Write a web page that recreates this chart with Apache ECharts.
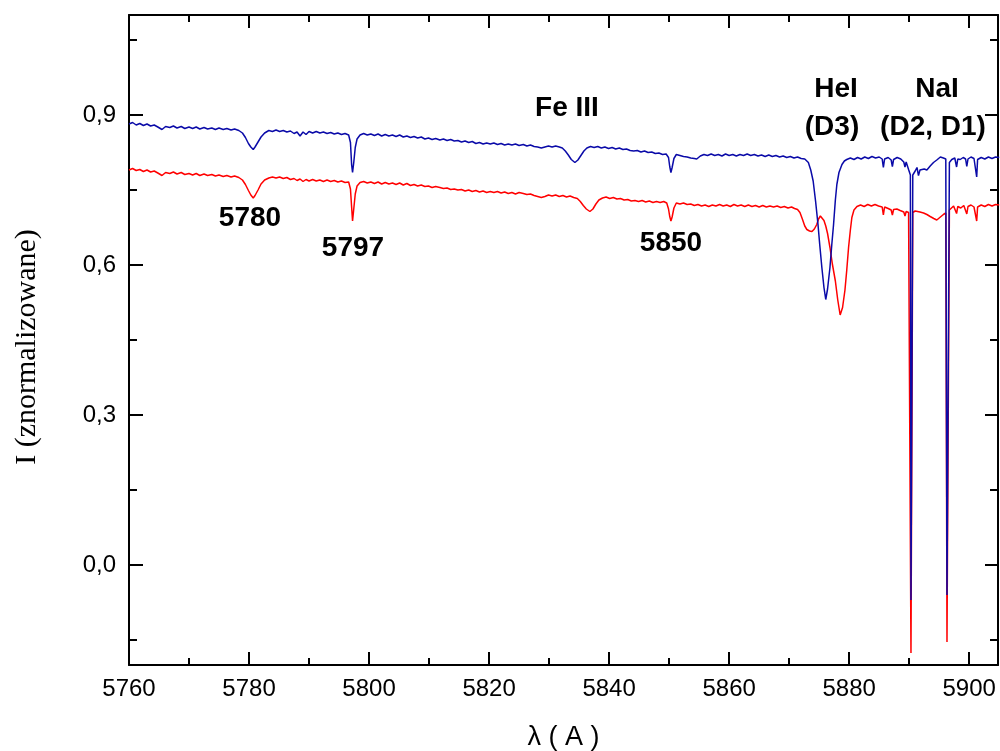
<!DOCTYPE html>
<html>
<head>
<meta charset="utf-8">
<script src="https://cdn.jsdelivr.net/npm/echarts@6/dist/echarts.min.js"></script>
<style>
  html, body { margin: 0; padding: 0; background: #fff; }
  #chart { width: 1000px; height: 751px; }
</style>
</head>
<body>
<div id="chart"></div>
<script>
// widma (blue - gorne, red - dolne)
var blueWl = [
  5760.0,5760.6,5761.2,5761.8,5762.4,5763.0,5763.6,5764.2,5764.8,5765.5,5766.1,5766.8,5767.4,5768.0,5768.7,5769.3,
  5770.0,5770.6,5771.2,5771.8,5772.5,5773.1,5773.8,5774.4,5775.0,5775.7,5776.3,5777.0,5777.6,5778.3,5778.9,5779.4,
  5779.9,5780.3,5780.7,5781.0,5781.5,5782.0,5782.6,5783.3,5783.9,5784.5,5785.1,5785.7,5786.3,5786.9,5787.5,5788.0,
  5788.5,5789.0,5789.5,5790.0,5790.6,5791.2,5791.8,5792.4,5793.0,5793.6,5794.2,5794.8,5795.4,5796.0,5796.6,5796.9,
  5797.1,5797.25,5797.45,5797.7,5798.0,5798.5,5799.1,5799.7,5800.3,5800.9,5801.5,5802.1,5802.7,5803.3,5803.9,5804.5,
  5805.1,5805.7,5806.3,5806.9,5807.5,5808.1,5808.7,5809.3,5809.9,5810.5,5811.1,5811.8,5812.4,5813.0,5813.6,5814.2,
  5814.8,5815.4,5816.0,5816.6,5817.2,5817.8,5818.4,5819.0,5819.6,5820.2,5820.8,5821.4,5822.0,5822.6,5823.2,5823.8,
  5824.4,5825.0,5825.7,5826.3,5826.9,5827.5,5828.1,5828.7,5829.3,5829.9,5830.5,5831.1,5831.7,5832.2,5832.7,5833.2,
  5833.7,5834.3,5834.8,5835.3,5835.8,5836.3,5836.9,5837.5,5838.1,5838.7,5839.3,5839.9,5840.5,5841.1,5841.7,5842.3,
  5842.9,5843.5,5844.1,5844.7,5845.3,5845.9,5846.5,5847.1,5847.7,5848.3,5848.9,5849.5,5849.9,5850.1,5850.3,5850.5,
  5850.8,5851.2,5851.8,5852.4,5853.0,5853.6,5854.2,5854.6,5855.2,5855.8,5856.4,5857.0,5857.6,5858.2,5858.8,5859.4,
  5860.0,5860.6,5861.2,5861.8,5862.4,5863.0,5863.6,5864.2,5864.8,5865.4,5866.0,5866.6,5867.2,5867.8,5868.4,5869.0,
  5869.6,5870.2,5870.8,5871.4,5872.0,5872.6,5873.2,5873.6,5874.0,5874.4,5874.8,5875.1,5875.45,5875.8,5876.1,5876.4,
  5876.8,5877.1,5877.4,5877.7,5877.95,5878.3,5878.8,5879.2,5879.6,5880.2,5880.8,5881.4,5882.0,5882.6,5883.2,5883.8,
  5884.4,5885.0,5885.5,5885.7,5885.9,5886.5,5887.0,5887.2,5887.4,5888.0,5888.6,5889.1,5889.3,5889.5,5889.9,5890.2,
  5890.3,5890.5,5890.6,5891.0,5891.3,5891.55,5891.8,5892.1,5892.5,5892.95,5893.5,5894.05,5894.6,5895.2,5895.7,5896.1,
  5896.3,5896.5,5896.7,5897.1,5897.6,5897.9,5898.1,5898.5,5899.0,5899.4,5899.6,5899.8,5900.3,5900.8,5901.1,5901.25,
  5901.4,5902.0,5902.6,5903.2,5903.8,5904.4,5905.0
];
var blueI = [
  0.882,0.885,0.880,0.883,0.879,0.882,0.878,0.880,0.876,0.871,0.877,0.875,0.878,0.874,0.877,0.873,
  0.876,0.873,0.876,0.872,0.875,0.872,0.874,0.871,0.874,0.871,0.873,0.870,0.872,0.869,0.864,0.855,
  0.843,0.836,0.831,0.836,0.846,0.856,0.864,0.869,0.867,0.870,0.867,0.869,0.866,0.868,0.863,0.866,
  0.858,0.866,0.861,0.867,0.864,0.867,0.864,0.866,0.863,0.865,0.862,0.864,0.861,0.863,0.860,0.845,
  0.800,0.785,0.805,0.835,0.852,0.860,0.863,0.860,0.862,0.859,0.862,0.858,0.861,0.858,0.860,0.857,
  0.860,0.856,0.858,0.855,0.857,0.854,0.856,0.852,0.854,0.851,0.853,0.850,0.852,0.849,0.851,0.848,
  0.849,0.846,0.848,0.845,0.847,0.843,0.845,0.842,0.844,0.842,0.844,0.841,0.843,0.840,0.842,0.840,
  0.842,0.839,0.841,0.838,0.840,0.837,0.836,0.834,0.836,0.838,0.836,0.838,0.836,0.834,0.828,0.820,
  0.811,0.805,0.810,0.819,0.828,0.834,0.837,0.835,0.837,0.834,0.836,0.833,0.835,0.832,0.834,0.831,
  0.832,0.829,0.828,0.829,0.826,0.828,0.825,0.826,0.823,0.824,0.821,0.822,0.815,0.797,0.785,0.795,
  0.813,0.821,0.819,0.817,0.816,0.814,0.813,0.812,0.818,0.821,0.819,0.822,0.819,0.821,0.818,0.822,
  0.819,0.821,0.818,0.821,0.819,0.822,0.819,0.821,0.818,0.820,0.817,0.820,0.817,0.819,0.816,0.818,
  0.815,0.817,0.814,0.816,0.813,0.812,0.805,0.790,0.768,0.728,0.682,0.640,0.595,0.555,0.531,0.552,
  0.595,0.640,0.681,0.730,0.761,0.785,0.801,0.808,0.811,0.814,0.811,0.815,0.812,0.816,0.813,0.817,
  0.814,0.816,0.812,0.795,0.812,0.815,0.810,0.797,0.811,0.815,0.812,0.806,0.796,0.806,0.791,0.780,
  -0.070,-0.070,0.780,0.788,0.795,0.779,0.790,0.787,0.792,0.790,0.798,0.805,0.810,0.816,0.814,0.812,
  -0.060,-0.060,0.805,0.811,0.814,0.796,0.812,0.811,0.815,0.812,0.797,0.812,0.816,0.813,0.812,0.776,
  0.811,0.815,0.812,0.816,0.813,0.816,0.815
];

var redWl = [
  5760.0,5760.6,5761.2,5761.8,5762.4,5763.0,5763.6,5764.2,5764.8,5765.5,5766.1,5766.8,5767.4,5768.0,5768.7,5769.3,
  5770.0,5770.6,5771.2,5771.8,5772.5,5773.1,5773.8,5774.4,5775.0,5775.7,5776.3,5777.0,5777.6,5778.3,5778.9,5779.4,
  5779.9,5780.3,5780.7,5781.0,5781.5,5782.0,5782.6,5783.3,5783.9,5784.5,5785.1,5785.7,5786.3,5786.9,5787.5,5788.0,
  5788.5,5789.0,5789.5,5790.0,5790.6,5791.2,5791.8,5792.4,5793.0,5793.6,5794.2,5794.8,5795.4,5796.0,5796.6,5796.9,
  5797.1,5797.25,5797.45,5797.7,5798.0,5798.5,5799.1,5799.7,5800.3,5800.9,5801.5,5802.1,5802.7,5803.3,5803.9,5804.5,
  5805.1,5805.7,5806.3,5806.9,5807.5,5808.1,5808.7,5809.3,5809.9,5810.5,5811.1,5811.8,5812.4,5813.0,5813.6,5814.2,
  5814.8,5815.4,5816.0,5816.6,5817.2,5817.8,5818.4,5819.0,5819.6,5820.2,5820.8,5821.4,5822.0,5822.6,5823.2,5823.8,
  5824.4,5825.0,5825.7,5826.3,5826.9,5827.5,5828.1,5828.7,5829.3,5829.9,5830.5,5831.1,5831.7,5832.3,5832.9,5833.5,
  5834.1,5834.7,5835.2,5835.7,5836.2,5836.8,5837.3,5837.8,5838.3,5838.9,5839.5,5840.1,5840.7,5841.3,5841.9,5842.5,
  5843.1,5843.7,5844.3,5844.9,5845.5,5846.1,5846.7,5847.3,5847.9,5848.5,5849.1,5849.6,5849.9,5850.1,5850.3,5850.5,
  5850.8,5851.2,5851.8,5852.4,5853.0,5853.6,5854.2,5854.8,5855.4,5856.0,5856.6,5857.2,5857.8,5858.4,5859.0,5859.6,
  5860.2,5860.8,5861.4,5862.0,5862.6,5863.2,5863.8,5864.4,5865.0,5865.6,5866.2,5866.8,5867.4,5868.0,5868.6,5869.2,
  5869.8,5870.4,5870.9,5871.4,5871.8,5872.2,5872.6,5872.95,5873.4,5873.8,5874.2,5874.6,5874.9,5875.2,5875.5,5875.8,
  5876.1,5876.4,5876.8,5877.2,5877.7,5878.1,5878.5,5878.9,5879.3,5879.6,5879.9,5880.2,5880.45,5880.8,5881.3,5881.9,
  5882.5,5883.1,5883.7,5884.3,5884.9,5885.5,5885.7,5885.9,5886.5,5887.0,5887.2,5887.4,5887.95,5888.5,5889.1,5889.3,
  5889.5,5889.9,5890.2,5890.3,5890.5,5890.6,5891.0,5891.3,5891.8,5892.4,5892.95,5893.5,5894.1,5894.6,5895.1,5895.7,
  5896.1,5896.3,5896.5,5896.7,5897.4,5897.9,5898.1,5898.6,5899.1,5899.6,5899.8,5900.3,5900.8,5901.1,5901.25,5901.4,
  5902.0,5902.6,5903.2,5903.8,5904.4,5905.0
];
var redI = [
  0.790,0.793,0.789,0.791,0.787,0.790,0.786,0.788,0.784,0.779,0.785,0.783,0.786,0.782,0.785,0.781,
  0.783,0.780,0.783,0.779,0.782,0.779,0.781,0.778,0.780,0.777,0.779,0.776,0.778,0.775,0.770,0.761,
  0.749,0.740,0.734,0.739,0.750,0.762,0.770,0.774,0.776,0.774,0.776,0.773,0.775,0.771,0.773,0.769,
  0.772,0.767,0.771,0.768,0.771,0.768,0.770,0.767,0.770,0.767,0.769,0.766,0.768,0.765,0.766,0.752,
  0.715,0.688,0.712,0.742,0.758,0.765,0.767,0.764,0.766,0.763,0.766,0.762,0.765,0.762,0.764,0.761,
  0.764,0.760,0.763,0.759,0.761,0.758,0.760,0.757,0.758,0.755,0.757,0.755,0.753,0.754,0.751,0.752,
  0.750,0.751,0.748,0.750,0.747,0.749,0.746,0.748,0.745,0.747,0.745,0.747,0.744,0.746,0.743,0.745,
  0.742,0.745,0.743,0.741,0.742,0.739,0.737,0.735,0.737,0.740,0.738,0.740,0.737,0.739,0.736,0.738,
  0.735,0.733,0.727,0.719,0.712,0.707,0.712,0.722,0.730,0.734,0.736,0.733,0.735,0.732,0.733,0.730,
  0.731,0.728,0.729,0.727,0.729,0.726,0.728,0.725,0.727,0.725,0.727,0.724,0.712,0.697,0.688,0.696,
  0.714,0.724,0.722,0.724,0.721,0.722,0.719,0.721,0.718,0.720,0.717,0.720,0.718,0.721,0.718,0.720,
  0.717,0.721,0.718,0.720,0.717,0.720,0.717,0.719,0.716,0.719,0.716,0.718,0.716,0.718,0.715,0.717,
  0.714,0.716,0.713,0.711,0.705,0.692,0.678,0.671,0.668,0.667,0.672,0.681,0.692,0.698,0.695,0.689,
  0.678,0.663,0.635,0.602,0.568,0.530,0.500,0.515,0.550,0.590,0.635,0.670,0.695,0.710,0.717,0.720,
  0.717,0.721,0.718,0.721,0.718,0.716,0.700,0.716,0.713,0.710,0.700,0.711,0.712,0.709,0.706,0.698,
  0.707,0.705,0.703,-0.176,-0.176,0.705,0.708,0.710,0.706,0.704,0.701,0.697,0.693,0.690,0.695,0.701,
  0.704,-0.154,-0.154,0.710,0.718,0.703,0.717,0.714,0.719,0.702,0.717,0.720,0.716,0.717,0.688,0.716,
  0.720,0.717,0.721,0.718,0.721,0.720
];

// osie
var xMajor = [5760, 5780, 5800, 5820, 5840, 5860, 5880, 5900];
var xMinor = [5770, 5790, 5810, 5830, 5850, 5870, 5890];
var yMajor = [0, 0.3, 0.6, 0.9];
var yMinor = [-0.15, 0.15, 0.45, 0.75, 1.05];

function zip(a, b) {
  var out = [];
  for (var i = 0; i < a.length; i++) out.push([a[i], b[i]]);
  return out;
}

var sans = "'Liberation Sans', Arial, sans-serif";
var axisLineStyle = { show: true, onZero: false, lineStyle: { color: '#000', width: 2 } };
var noLine = { show: false, onZero: false };

function xAx(pos, ticks, len, labels, line) {
  return {
    type: 'value', position: pos, min: 5760, max: 5904.8,
    axisLine: line ? axisLineStyle : noLine,
    axisTick: { show: true, inside: true, length: len, customValues: ticks, lineStyle: { color: '#000', width: 2 } },
    axisLabel: labels ? {
      show: true, customValues: ticks, margin: 12, color: '#000', fontSize: 24, fontFamily: sans,
      formatter: function (v) { return String(v); }
    } : { show: false },
    splitLine: { show: false }
  };
}
function yAx(pos, ticks, len, labels, line) {
  return {
    type: 'value', position: pos, min: -0.2, max: 1.1,
    axisLine: line ? axisLineStyle : noLine,
    axisTick: { show: true, inside: true, length: len, customValues: ticks, lineStyle: { color: '#000', width: 2 } },
    axisLabel: labels ? {
      show: true, customValues: ticks, margin: 13, color: '#000', fontSize: 24, fontFamily: sans,
      formatter: function (v) { return v.toFixed(1).replace('.', ','); }
    } : { show: false },
    splitLine: { show: false }
  };
}

var xAxes = [
  xAx('bottom', xMajor, 13, true, true),
  xAx('bottom', xMinor, 7, false, false),
  xAx('top', xMajor, 13, false, true),
  xAx('top', xMinor, 7, false, false)
];
xAxes[0].name = 'λ ( A )';
xAxes[0].nameLocation = 'middle';
xAxes[0].nameGap = 59;
xAxes[0].nameTextStyle = { color: '#000', fontSize: 27, fontFamily: sans };

var yAxes = [
  yAx('left', yMajor, 14, true, true),
  yAx('left', yMinor, 8, false, false),
  yAx('right', yMajor, 13, false, true),
  yAx('right', yMinor, 8, false, false)
];
yAxes[0].name = 'I (znormalizowane)';
yAxes[0].nameLocation = 'middle';
yAxes[0].nameGap = 87;
yAxes[0].nameTextStyle = { color: '#000', fontSize: 30, fontFamily: "'Liberation Serif', 'Times New Roman', serif", padding: [0, 14, 0, 0] };

function note(text, x, y) {
  return {
    type: 'text', x: x, y: y, z: 100,
    style: { text: text, fill: '#000', font: "bold 28px 'Liberation Sans', Arial, sans-serif", align: 'center', verticalAlign: 'middle' }
  };
}

var option = {
  animation: false,
  backgroundColor: '#fff',
  grid: { left: 129, right: 2, top: 15, bottom: 86, containLabel: false, outerBoundsMode: 'none' },
  xAxis: xAxes,
  yAxis: yAxes,
  series: [
    {
      name: 'red', type: 'line', xAxisIndex: 0, yAxisIndex: 0,
      data: zip(redWl, redI), showSymbol: false, symbol: 'none',
      lineStyle: { color: '#ff0000', width: 1.5 }
    },
    {
      name: 'blue', type: 'line', xAxisIndex: 0, yAxisIndex: 0,
      data: zip(blueWl, blueI), showSymbol: false, symbol: 'none',
      lineStyle: { color: '#0a0aa8', width: 1.5 }
    }
  ],
  graphic: [
    note('5780', 250, 218),
    note('5797', 353, 248),
    note('5850', 671, 243),
    note('Fe III', 567, 108),
    note('HeI', 836, 89),
    note('(D3)', 832, 127),
    note('NaI', 937, 89),
    note('(D2, D1)', 933, 127)
  ]
};

var chart = echarts.init(document.getElementById('chart'));
chart.setOption(option);
</script>
</body>
</html>
